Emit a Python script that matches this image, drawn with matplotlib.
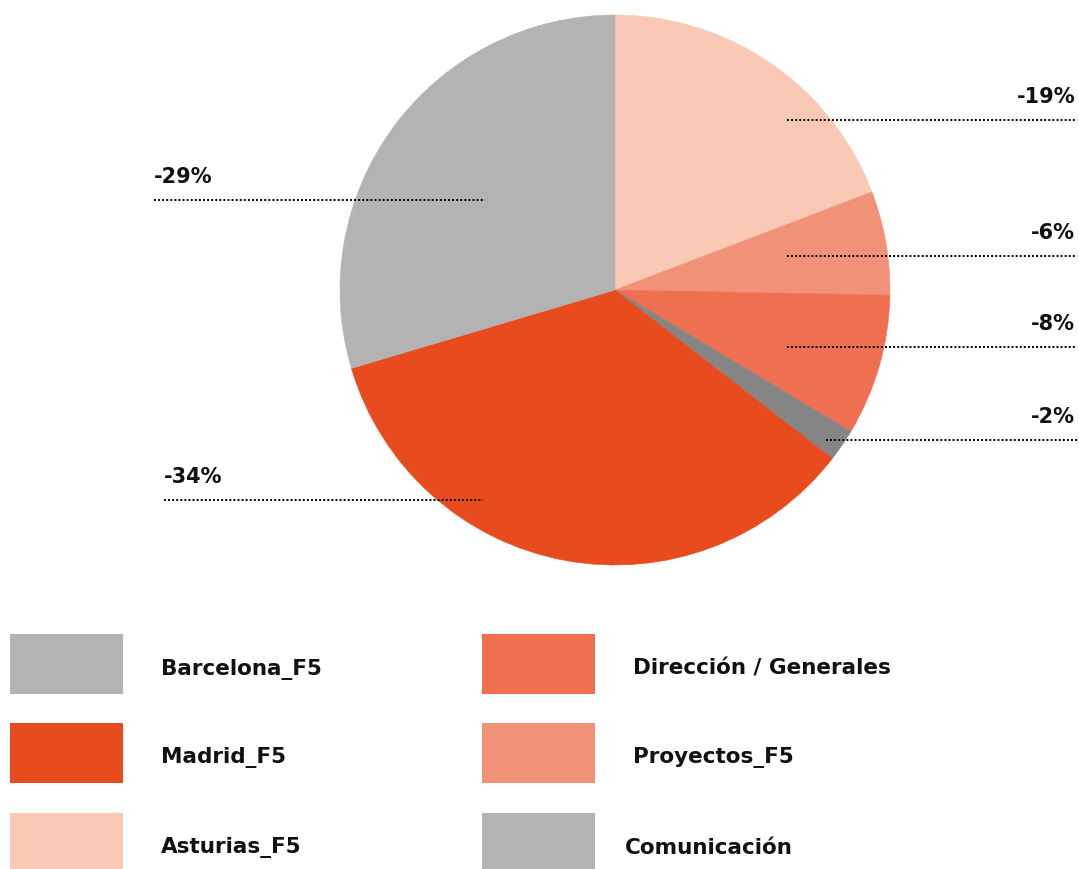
import matplotlib.pyplot as plt
from matplotlib.patches import Rectangle

# Datos (orden del pie, empezando arriba y en sentido horario)
categorias = ['Asturias_F5', 'Proyectos_F5', 'Dirección / Generales',
              'Comunicación', 'Madrid_F5', 'Barcelona_F5']
valores = [19.2, 6.1, 8.3, 1.9, 34.9, 29.6]
etiquetas = ['-19%', '-6%', '-8%', '-2%', '-34%', '-29%']
colores_pie = ['#f9c9b5', '#f19278', '#ef7050', '#858585', '#e84c1e', '#b3b3b3']

# leyenda (orden de la imagen)
leyenda = ['Barcelona_F5', 'Madrid_F5', 'Asturias_F5',
           'Dirección / Generales', 'Proyectos_F5', 'Comunicación']
colores_leyenda = ['#b3b3b3', '#e84c1e', '#f9c9b5', '#ef7050', '#f19278', '#b3b3b3']

plt.rcParams['font.family'] = ['DejaVu Sans']

W, H = 1079, 869
fig = plt.figure(figsize=(W / 100, H / 100), dpi=100)
ax = fig.add_axes([0, 0, 1, 1])

wedges, _ = ax.pie(valores, colors=colores_pie, startangle=90, counterclock=False,
                   center=(615, H - 290), radius=275, frame=True)
for w, c in zip(wedges, colores_pie):
    w.set_edgecolor(c)
    w.set_linewidth(0.4)

# etiquetas con lineas punteadas: (x_ini, x_fin, y_linea, alineacion)
lineas = {
    '-19%': (787, 1077, 120, 'right'),
    '-6%': (787, 1077, 256, 'right'),
    '-8%': (787, 1077, 347, 'right'),
    '-2%': (826, 1077, 440, 'right'),
    '-34%': (164, 483, 500, 'left'),
    '-29%': (154, 485, 200, 'left'),
}
for et in etiquetas:
    x0, x1, y, ha = lineas[et]
    ax.plot([x0, x1], [H - y, H - y], color='black', linestyle=(0, (1, 1.1)),
            linewidth=1.4)
    tx = x1 - 2 if ha == 'right' else x0
    ax.text(tx, H - y + 13, et, ha=ha, va='bottom', fontsize=15,
            fontweight='bold', color='#111111')

# leyenda manual
filas = [634, 723, 813]
for i, (nombre, col) in enumerate(zip(leyenda, colores_leyenda)):
    colx = i // 3
    fila = filas[i % 3]
    bx = 10 if colx == 0 else 482
    ax.add_patch(Rectangle((bx, H - fila - 60), 113, 60, color=col, lw=0))
    tx = 161 if colx == 0 else (625 if nombre == 'Comunicación' else 633)
    ax.text(tx, H - fila - 35, nombre, ha='left', va='center', fontsize=15.5,
            fontweight='bold', color='#111111')

ax.set_xlim(0, W)
ax.set_ylim(0, H)
ax.set_aspect('auto')
ax.axis('off')

fig.savefig('out.png', dpi=100)
